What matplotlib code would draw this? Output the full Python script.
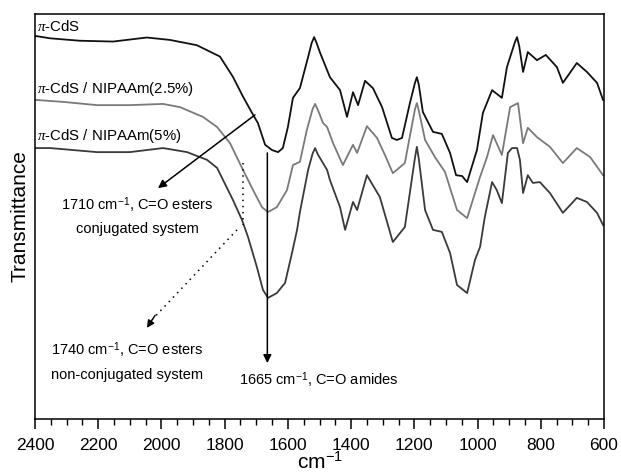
import matplotlib
matplotlib.use('Agg')
import matplotlib.pyplot as plt
from matplotlib.ticker import MultipleLocator

plt.rcParams['font.family'] = ['Liberation Sans', 'DejaVu Sans']
plt.rcParams['mathtext.fontset'] = 'custom'
plt.rcParams['mathtext.rm'] = 'Liberation Sans'
plt.rcParams['mathtext.it'] = 'Liberation Serif:italic'

# wavenumbers (cm-1) and transmittance (arb. units, offset spectra)
wn_cds = [2400, 2352, 2258, 2153, 2046, 1973, 1888, 1815, 1774, 1742, 1710, 1695, 1672,
          1650, 1631, 1616, 1600, 1584, 1562, 1536, 1525, 1517, 1510, 1498, 1467, 1435,
          1413, 1394, 1378, 1356, 1331, 1302, 1271, 1255, 1239, 1214, 1198, 1192, 1186,
          1173, 1141, 1113, 1087, 1068, 1049, 1033, 1002, 983, 954, 923, 907, 882, 875,
          868, 856, 841, 812, 784, 749, 730, 686, 654, 622, 603]
t_cds = [94.6, 94.0, 93.4, 93.2, 94.2, 93.6, 92.3, 89.5, 84.5, 79.6, 75.1, 73.1, 67.7,
         66.4, 65.9, 66.9, 72.1, 79.3, 81.7, 89.4, 92.8, 94.3, 93.0, 90.4, 84.4, 81.2,
         74.6, 80.7, 77.5, 83.5, 81.7, 77.0, 69.4, 68.9, 69.4, 78.0, 83.0, 84.4, 82.6,
         75.8, 70.9, 70.4, 65.7, 60.2, 60.0, 58.5, 66.4, 75.6, 81.2, 79.3, 86.9, 93.0,
         94.3, 92.0, 85.7, 90.6, 88.6, 89.9, 86.9, 83.0, 87.9, 85.7, 83.0, 78.8]

wn_25 = [2400, 2311, 2204, 2100, 1995, 1941, 1869, 1824, 1783, 1742, 1710, 1682, 1663,
         1635, 1603, 1584, 1562, 1540, 1522, 1514, 1505, 1489, 1476, 1457, 1426, 1394,
         1381, 1350, 1318, 1293, 1268, 1230, 1198, 1192, 1186, 1166, 1135, 1103, 1065,
         1033, 992, 970, 951, 923, 897, 872, 856, 841, 812, 771, 730, 686, 644, 603]
t_25 = [78.8, 78.3, 77.5, 77.5, 77.8, 77.0, 74.6, 72.1, 68.1, 61.5, 56.5, 52.3, 51.1,
        52.3, 56.5, 62.7, 63.5, 71.4, 76.5, 77.8, 76.3, 73.1, 72.1, 68.1, 62.7, 67.7,
        65.7, 72.3, 69.4, 65.2, 60.7, 63.2, 76.5, 78.0, 76.2, 68.9, 64.7, 61.0, 51.6,
        49.6, 59.8, 64.7, 70.1, 65.2, 77.0, 78.0, 68.1, 71.9, 69.6, 67.2, 63.2, 66.9,
        64.7, 60.2]

wn_5 = [2400, 2352, 2204, 2100, 1995, 1919, 1856, 1824, 1774, 1745, 1726, 1698, 1679,
        1663, 1635, 1609, 1587, 1571, 1562, 1536, 1522, 1514, 1505, 1476, 1467, 1435,
        1419, 1394, 1381, 1350, 1309, 1268, 1230, 1198, 1192, 1186, 1166, 1141, 1113,
        1087, 1065, 1033, 1008, 992, 977, 954, 939, 923, 904, 891, 875, 866, 856, 841,
        825, 803, 771, 730, 686, 654, 622, 603]
t_5 = [66.9, 66.9, 65.9, 65.9, 66.9, 65.9, 64.0, 62.0, 54.1, 49.1, 44.9, 37.5, 31.9,
       29.9, 31.1, 33.6, 41.0, 46.7, 51.1, 61.5, 65.5, 66.9, 65.3, 61.5, 59.0, 52.3,
       46.7, 53.6, 51.6, 60.2, 54.8, 43.7, 47.4, 64.5, 67.2, 64.3, 51.6, 46.7, 46.2,
       41.0, 33.1, 31.1, 39.3, 42.5, 49.9, 58.5, 56.5, 53.3, 65.7, 66.9, 66.9, 64.0,
       55.8, 60.2, 58.3, 58.5, 55.8, 50.9, 54.6, 53.6, 50.9, 47.9]

fig = plt.figure(figsize=(6.21, 4.72), dpi=100)
ax = fig.add_axes([0.0564, 0.1123, 0.9162, 0.858])

ax.plot(wn_cds, t_cds, color='#111111', lw=1.3)
ax.plot(wn_25, t_25, color='#7a7a7a', lw=1.3)
ax.plot(wn_5, t_5, color='#3a3a3a', lw=1.3)

# curve labels
fs = 10.8
ax.text(2395, 95.0, r'$\pi$-CdS', fontsize=fs, va='bottom', ha='left')
ax.text(2395, 79.2, r'$\pi$-CdS / NIPAAm(2.5%)', fontsize=fs, va='bottom', ha='left')
ax.text(2395, 67.6, r'$\pi$-CdS / NIPAAm(5%)', fontsize=fs, va='bottom', ha='left')

# 1710 cm-1 annotation
afs = 10.5
ax.annotate('', xy=(2011, 57.0), xytext=(1704, 75.1),
            arrowprops=dict(arrowstyle='-|>', color='black', lw=1.1,
                            mutation_scale=12, shrinkA=0, shrinkB=0))
ax.text(2077, 52.8, r'1710 cm$^{-1}$, C=O esters', fontsize=afs, ha='center', va='center')
ax.text(2077, 46.9, 'conjugated system', fontsize=afs, ha='center', va='center')

# 1740 cm-1 annotation (dotted)
ax.plot([1742, 1742], [63.2, 47.9], color='black', lw=1.1, ls=(0, (1, 3)))
ax.plot([1761, 2030], [46.7, 24.5], color='black', lw=1.1, ls=(0, (1, 3)))
ax.annotate('', xy=(2046, 22.5), xytext=(2020, 25.6),
            arrowprops=dict(arrowstyle='-|>', color='black', lw=1.0,
                            mutation_scale=11, shrinkA=0, shrinkB=0))
ax.text(2109, 17.0, r'1740 cm$^{-1}$, C=O esters', fontsize=afs, ha='center', va='center')
ax.text(2109, 10.9, 'non-conjugated system', fontsize=afs, ha='center', va='center')

# 1665 cm-1 annotation
ax.annotate('', xy=(1665, 13.8), xytext=(1665, 65.7),
            arrowprops=dict(arrowstyle='-|>', color='black', lw=1.1,
                            mutation_scale=12, shrinkA=0, shrinkB=0))
ax.text(1754, 9.6, r'1665 cm$^{-1}$, C=O amides', fontsize=afs, ha='left', va='center')

ax.set_xlim(2400, 600)
ax.set_ylim(0, 100)
ax.xaxis.set_major_locator(MultipleLocator(200))
ax.xaxis.set_minor_locator(MultipleLocator(50))
ax.tick_params(axis='x', which='major', direction='out', length=7, width=1.1,
               labelsize=12.5, pad=7, top=False)
ax.tick_params(axis='x', which='minor', direction='out', length=4, width=1.0, top=False)
ax.set_yticks([])
for s in ax.spines.values():
    s.set_linewidth(1.1)

fig.text(320 / 621, 3 / 472, r'cm$^{-1}$', fontsize=15, ha='center', va='baseline')
ax.set_ylabel('Transmittance', fontsize=15, labelpad=4)

fig.savefig('out.png', dpi=100)
